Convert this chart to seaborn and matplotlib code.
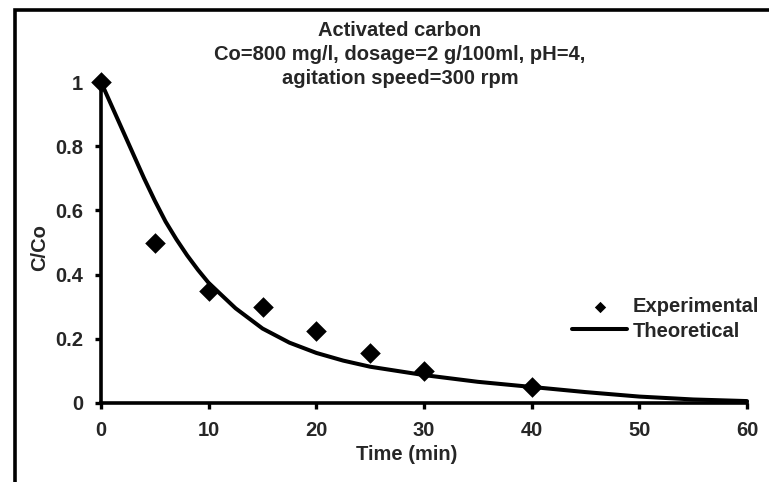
import numpy as np
import pandas as pd
import matplotlib
matplotlib.use('Agg')
import matplotlib.pyplot as plt
import seaborn as sns
from matplotlib.patches import Rectangle

# experimental points
time_exp = [0, 5, 10, 15, 20, 25, 30, 40]
c_exp = [1.0, 0.50, 0.35, 0.30, 0.225, 0.155, 0.10, 0.05]

# theoretical curve
time_theo = [0, 1, 2, 3, 4, 5, 6, 7, 8, 9, 10, 12.5, 15, 17.5, 20, 22.5,
             25, 30, 35, 40, 45, 50, 55, 60]
c_theo = [1.0, 0.925, 0.85, 0.775, 0.70, 0.63, 0.565, 0.51, 0.46, 0.415,
          0.374, 0.295, 0.232, 0.188, 0.156, 0.132, 0.113, 0.087, 0.066,
          0.05, 0.034, 0.02, 0.011, 0.006]

x_ticks = [0, 10, 20, 30, 40, 50, 60]
y_ticks = [0, 0.2, 0.4, 0.6, 0.8, 1]
y_tick_labels = ['0', '0.2', '0.4', '0.6', '0.8', '1']

title_lines = ['Activated carbon',
               'Co=800 mg/l, dosage=2 g/100ml, pH=4,',
               'agitation speed=300 rpm']

sns.set_style('white')
plt.rcParams['font.family'] = ['Liberation Sans', 'DejaVu Sans']
plt.rcParams['font.weight'] = 'bold'

FS = 14.5
W, H = 769, 482
fig = plt.figure(figsize=(W / 100, H / 100), dpi=100)
ax = fig.add_axes([101 / W, 1 - 403 / H, (747 - 101) / W, (403 - 82) / H])

df_exp = pd.DataFrame({'t': time_exp, 'c': c_exp})
df_theo = pd.DataFrame({'t': time_theo, 'c': c_theo})

sns.lineplot(data=df_theo, x='t', y='c', ax=ax, color='black', lw=2.9,
             label='Theoretical', clip_on=False, zorder=3,
             solid_joinstyle='round', solid_capstyle='round')
sns.scatterplot(data=df_exp, x='t', y='c', ax=ax, color='black', marker='D',
                s=110, edgecolor='black', linewidth=0, label='Experimental',
                clip_on=False, zorder=4)

ax.set_xlim(0, 60)
ax.set_ylim(0, 1)
ax.set_xticks(x_ticks)
ax.set_yticks(y_ticks)
ax.set_yticklabels(y_tick_labels)

for s in ['top', 'right']:
    ax.spines[s].set_visible(False)
for s in ['left', 'bottom']:
    ax.spines[s].set_linewidth(2.6)
    ax.spines[s].set_color('black')

ax.tick_params(axis='both', direction='out', length=4, width=2.4, color='black',
               labelsize=FS, bottom=True, left=True)
ax.tick_params(axis='y', pad=9)
ax.tick_params(axis='x', pad=9)
for lab in ax.get_xticklabels() + ax.get_yticklabels():
    lab.set_fontweight('bold')

ax.set_xlabel('Time (min)', fontsize=FS, fontweight='bold', va='center')
ax.set_ylabel('C/Co', fontsize=FS, fontweight='bold', va='center')
ax.xaxis.set_label_coords((407 - 101) / 646, -(454 - 403) / 321)
ax.yaxis.set_label_coords((40 - 101) / 646, (403 - 248) / 321)

# title block
for i, line in enumerate(title_lines):
    fig.text(400 / W, 1 - (30 + 24.5 * i) / H, line, ha='center', va='center',
             fontsize=FS, fontweight='bold')

# legend: experimental first, then theoretical
handles, labels = ax.get_legend_handles_labels()
order = [labels.index('Experimental'), labels.index('Theoretical')]
leg = ax.legend([handles[i] for i in order], [labels[i] for i in order],
                loc='center left', bbox_to_anchor=(572 / W, 1 - 319 / H),
                bbox_transform=fig.transFigure, frameon=False,
                prop={'weight': 'bold', 'size': FS}, handlelength=2.75,
                handletextpad=0.25, labelspacing=0.25, markerscale=0.55,
                borderpad=0, borderaxespad=0)

# outer chart border (only top and left edges fall inside the picture)
fig.add_artist(Rectangle((14.5 / W, -0.1), 2.0, (1 - 9.5 / H) + 0.1,
                         transform=fig.transFigure, fill=False,
                         lw=2.6, edgecolor='black'))

fig.savefig('out.png', dpi=100)
